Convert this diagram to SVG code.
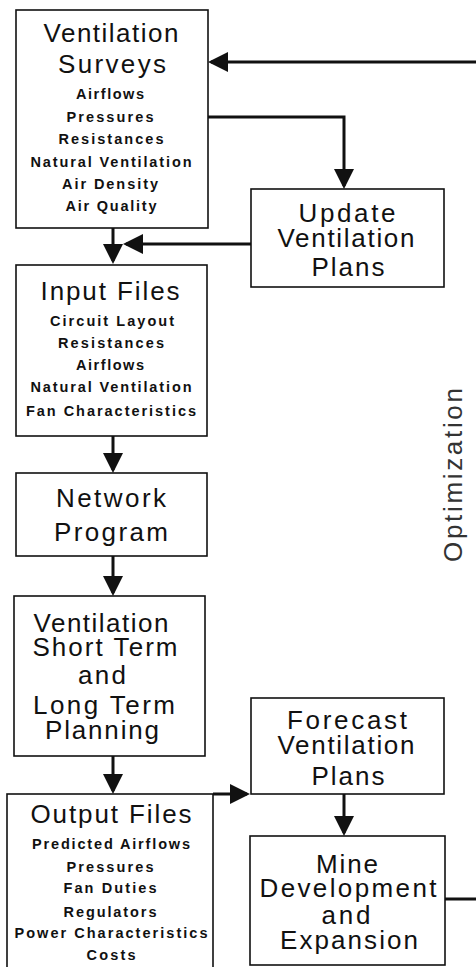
<svg xmlns="http://www.w3.org/2000/svg" width="476" height="967" viewBox="0 0 476 967">
<style>
.box{fill:#fff;stroke:#111;stroke-width:1.6}
.h{font-family:"Liberation Sans",Arial,sans-serif;font-size:26px;fill:#111;text-anchor:middle}
.s{font-family:"Liberation Sans",Arial,sans-serif;font-size:14.5px;font-weight:bold;fill:#111;text-anchor:middle}
.c{fill:none;stroke:#111;stroke-width:3}
.opt{font-family:"Liberation Sans",Arial,sans-serif;font-size:26px;fill:#333;text-anchor:middle}
</style>
<defs>
<marker id="ah" viewBox="0 0 20 20" markerWidth="20" markerHeight="20" refX="17" refY="10" orient="auto" markerUnits="userSpaceOnUse">
<path d="M0,0 L20,10 L0,20 Z" fill="#111"/>
</marker>
</defs>
<rect width="476" height="967" fill="#fff"/>
<g id="connectors">
<path class="c" d="M445,899 H490 V62 H211" marker-end="url(#ah)"/>
<path class="c" d="M208,117 H344 V186" marker-end="url(#ah)"/>
<path class="c" d="M113,228 V261" marker-end="url(#ah)"/>
<path class="c" d="M251,244 H126" marker-end="url(#ah)"/>
<path class="c" d="M113,436 V470" marker-end="url(#ah)"/>
<path class="c" d="M113,556 V593" marker-end="url(#ah)"/>
<path class="c" d="M113,756 V791" marker-end="url(#ah)"/>
<path class="c" d="M213,794 H247" marker-end="url(#ah)"/>
<path class="c" d="M344,794 V833" marker-end="url(#ah)"/>
</g>
<g id="surveys">
<rect class="box" x="16" y="10" width="192" height="218"/>
<text class="h" x="111" y="42" textLength="135" lengthAdjust="spacing">Ventilation</text>
<text class="h" x="112" y="73" textLength="108" lengthAdjust="spacing">Surveys</text>
<text class="s" x="110" y="99" textLength="68" lengthAdjust="spacing">Airflows</text>
<text class="s" x="110" y="122" textLength="87" lengthAdjust="spacing">Pressures</text>
<text class="s" x="111" y="144" textLength="105" lengthAdjust="spacing">Resistances</text>
<text class="s" x="111" y="167" textLength="161" lengthAdjust="spacing">Natural Ventilation</text>
<text class="s" x="110" y="189" textLength="96" lengthAdjust="spacing">Air Density</text>
<text class="s" x="111" y="211" textLength="91" lengthAdjust="spacing">Air Quality</text>
</g>
<g id="update">
<rect class="box" x="251" y="189" width="193" height="98"/>
<text class="h" x="347" y="222" textLength="97" lengthAdjust="spacing">Update</text>
<text class="h" x="346" y="247" textLength="137" lengthAdjust="spacing">Ventilation</text>
<text class="h" x="348" y="276" textLength="73" lengthAdjust="spacing">Plans</text>
</g>
<g id="input">
<rect class="box" x="16" y="265" width="191" height="171"/>
<text class="h" x="110" y="300" textLength="139" lengthAdjust="spacing">Input Files</text>
<text class="s" x="112" y="326" textLength="124" lengthAdjust="spacing">Circuit Layout</text>
<text class="s" x="111" y="348" textLength="106" lengthAdjust="spacing">Resistances</text>
<text class="s" x="110" y="370" textLength="68" lengthAdjust="spacing">Airflows</text>
<text class="s" x="111" y="392" textLength="161" lengthAdjust="spacing">Natural Ventilation</text>
<text class="s" x="111" y="416" textLength="170" lengthAdjust="spacing">Fan Characteristics</text>
</g>
<g id="network">
<rect class="box" x="16" y="473" width="191" height="83"/>
<text class="h" x="111" y="507" textLength="110" lengthAdjust="spacing">Network</text>
<text class="h" x="111" y="541" textLength="114" lengthAdjust="spacing">Program</text>
</g>
<g id="planning">
<rect class="box" x="14" y="596" width="191" height="160"/>
<text class="h" x="101" y="632" textLength="135" lengthAdjust="spacing">Ventilation</text>
<text class="h" x="105" y="656" textLength="145" lengthAdjust="spacing">Short Term</text>
<text class="h" x="102" y="684" textLength="48" lengthAdjust="spacing">and</text>
<text class="h" x="104" y="714" textLength="142" lengthAdjust="spacing">Long Term</text>
<text class="h" x="102" y="739" textLength="114" lengthAdjust="spacing">Planning</text>
</g>
<g id="forecast">
<rect class="box" x="251" y="698" width="193" height="96"/>
<text class="h" x="347" y="729" textLength="120" lengthAdjust="spacing">Forecast</text>
<text class="h" x="346" y="754" textLength="137" lengthAdjust="spacing">Ventilation</text>
<text class="h" x="348" y="785" textLength="73" lengthAdjust="spacing">Plans</text>
</g>
<g id="output">
<rect class="box" x="7" y="794" width="206" height="190"/>
<text class="h" x="111" y="823" textLength="161" lengthAdjust="spacing">Output Files</text>
<text class="s" x="111" y="849" textLength="158" lengthAdjust="spacing">Predicted Airflows</text>
<text class="s" x="110" y="872" textLength="87" lengthAdjust="spacing">Pressures</text>
<text class="s" x="110" y="893" textLength="93" lengthAdjust="spacing">Fan Duties</text>
<text class="s" x="110" y="917" textLength="93" lengthAdjust="spacing">Regulators</text>
<text class="s" x="111" y="938" textLength="193" lengthAdjust="spacing">Power Characteristics</text>
<text class="s" x="111" y="960" textLength="49" lengthAdjust="spacing">Costs</text>
</g>
<g id="mine">
<rect class="box" x="250" y="836" width="195" height="129"/>
<text class="h" x="347" y="873" textLength="62" lengthAdjust="spacing">Mine</text>
<text class="h" x="348" y="897" textLength="177" lengthAdjust="spacing">Development</text>
<text class="h" x="346" y="924" textLength="49" lengthAdjust="spacing">and</text>
<text class="h" x="349" y="949" textLength="138" lengthAdjust="spacing">Expansion</text>
</g>
<g id="optimization">
<text class="opt" transform="translate(462,475) rotate(-90)" textLength="174" lengthAdjust="spacing">Optimization</text>
</g>
</svg>
